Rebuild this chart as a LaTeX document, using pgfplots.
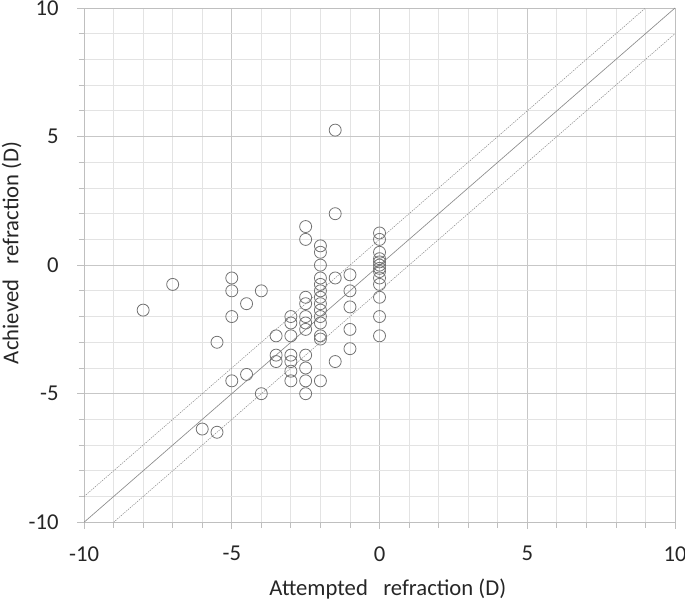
\documentclass[border=0pt]{standalone}
\usepackage{fontspec}
\setmainfont{Carlito}
\usepackage{pgfplots}
\usepackage{pgfplotstable}
\pgfplotsset{compat=1.18}

% attempted vs achieved refraction
\pgfplotstableread{
x y
-8 -1.75
-7 -0.75
-6 -6.375
-5.5 -6.5
-5.5 -3
-5 -0.5
-5 -1
-5 -2
-5 -4.5
-4.5 -1.5
-4.5 -4.25
-4 -1
-4 -5
-3.5 -2.75
-3.5 -3.5
-3.5 -3.75
-3 -2
-3 -2.25
-3 -2.75
-3 -3.5
-3 -3.75
-3 -4.125
-3 -4.5
-2.5 1.5
-2.5 1
-2.5 -1.25
-2.5 -1.5
-2.5 -2
-2.5 -2.25
-2.5 -2.5
-2.5 -3.5
-2.5 -4
-2.5 -4.5
-2.5 -5
-2 0.75
-2 0.5
-2 0
-2 -0.5
-2 -0.75
-2 -1
-2 -1.25
-2 -1.5
-2 -1.75
-2 -2
-2 -2.25
-2 -2.75
-2 -2.875
-2 -4.5
-1.5 5.25
-1.5 2
-1.5 -0.5
-1.5 -3.75
-1 -0.375
-1 -1
-1 -1.625
-1 -2.5
-1 -3.25
0 1.25
0 1
0 0.5
0 0.25
0 0.125
0 0
0 -0.125
0 -0.25
0 -0.5
0 -0.75
0 -1.25
0 -2
0 -2.75
}\refraction

\begin{document}
\begin{tikzpicture}
\begin{axis}[
  scale only axis,
  width=443pt, height=385.5pt,
  xmin=-10, xmax=10, ymin=-10, ymax=10,
  xtick={-10,-5,...,10}, ytick={-10,-5,...,10},
  minor tick num=4,
  grid=both,
  major grid style={draw=black!22, line width=0.6pt},
  minor grid style={draw=black!11, line width=0.6pt},
  axis line style={draw=black!25, line width=0.6pt},
  tick align=outside,
  major tick length=5pt, minor tick length=4pt,
  tick style={draw=black!25, line width=0.6pt},
  xtick pos=bottom, ytick pos=left,
  ticklabel style={font=\fontsize{17}{20}\selectfont, text=black!85},
  /pgf/number format/assume math mode=true,
  xticklabel shift=9.5pt, yticklabel shift=10.5pt,
  label style={font=\fontsize{17}{20}\selectfont, text=black!85},
  xlabel={Attempted\ \ \ refraction (D)},
  ylabel={Achieved\ \ \ refraction (D)},
  xlabel style={at={(axis description cs:0.514,-0.130)}, anchor=center},
  ylabel style={at={(axis description cs:-0.1227,0.524)}, anchor=center},
]
\addplot[draw=black!45, line width=0.5pt] coordinates {(-10,-10) (10,10)};
\addplot[draw=black!45, line width=0.4pt, dash pattern=on 1pt off 0.8pt] coordinates {(-10,-9) (9,10)};
\addplot[draw=black!45, line width=0.4pt, dash pattern=on 1pt off 0.8pt] coordinates {(-9,-10) (10,9)};
\addplot[only marks, mark=o, mark size=4.5pt,
  mark options={draw=black!55, line width=0.6pt}] table {\refraction};
\end{axis}
\pgfresetboundingbox
\path ([shift={(-63pt,-60pt)}]current axis.south west)
  rectangle ([shift={(7.5pt,6pt)}]current axis.north east);
\end{tikzpicture}
\end{document}
